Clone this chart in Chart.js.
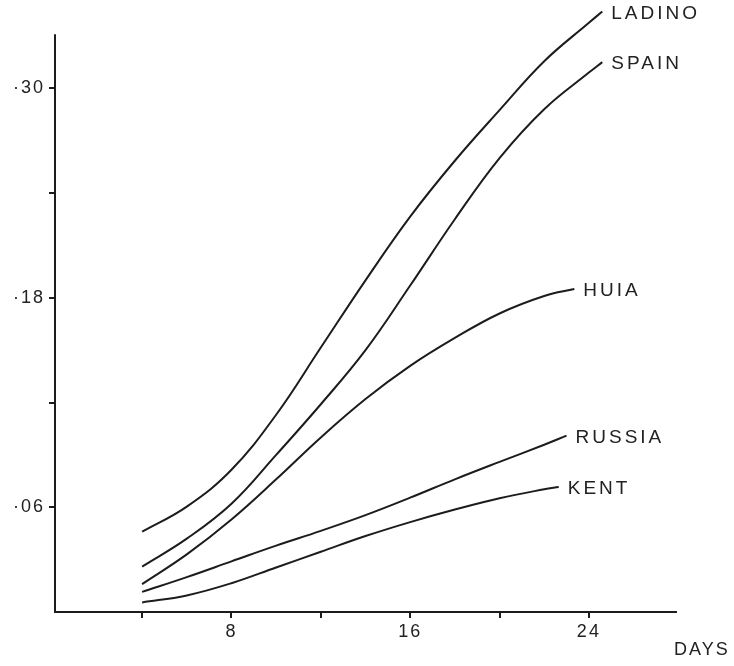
<!DOCTYPE html>
<html>
<head>
<meta charset="utf-8">
<script src="https://cdn.jsdelivr.net/npm/chart.js@4/dist/chart.umd.min.js"></script>
<style>
  html, body { margin: 0; padding: 0; background: #ffffff; }
  #wrap { width: 734px; height: 666px; }
</style>
</head>
<body>
<div id="wrap"><canvas id="c" width="734" height="666"></canvas></div>
<script>
// ---- data ----
const seriesNames = ['LADINO', 'SPAIN', 'HUIA', 'RUSSIA', 'KENT'];

const ladinoDays   = [4, 6, 8, 10, 12, 14, 16, 18, 20, 22, 24, 24.6];
const ladinoValues = [0.046, 0.0604, 0.0815, 0.113, 0.1515, 0.19, 0.2265, 0.2585, 0.2875, 0.3155, 0.3375, 0.344];

const spainDays    = [4, 6, 8, 10, 12, 14, 16, 18, 20, 22, 24, 24.6];
const spainValues  = [0.026, 0.042, 0.062, 0.09, 0.119, 0.150, 0.187, 0.225, 0.26, 0.288, 0.309, 0.315];

const huiaDays     = [4, 6, 8, 10, 12, 14, 16, 18, 20, 22, 23.35];
const huiaValues   = [0.016, 0.033, 0.053, 0.076, 0.1, 0.122, 0.141, 0.157, 0.171, 0.181, 0.185];

const russiaDays   = [4, 6, 8, 10, 12, 14, 16, 18, 20, 22, 23];
const russiaValues = [0.0115, 0.02, 0.029, 0.038, 0.0465, 0.0555, 0.0655, 0.076, 0.086, 0.0958, 0.101];

const kentDays     = [4, 6, 8, 10, 12, 14, 16, 18, 20, 22, 22.65];
const kentValues   = [0.0055, 0.0095, 0.0165, 0.0255, 0.0345, 0.0435, 0.0515, 0.0587, 0.0652, 0.0703, 0.0716];

const xTickValues = [4, 8, 12, 16, 20, 24];
const xTickLabels = ['', '8', '', '16', '', '24'];
const yTickValues = [0.06, 0.12, 0.18, 0.24, 0.30];
const yTickLabels = ['\u00B706', '', '\u00B718', '', '\u00B730'];
const xAxisTitle = 'DAYS';
const yAxisTop = 0.331;

// ---- chart ----
const allDays = [ladinoDays, spainDays, huiaDays, russiaDays, kentDays];
const allValues = [ladinoValues, spainValues, huiaValues, russiaValues, kentValues];

const INK = '#1c1c1c';
const TEXT = '#222222';
Chart.defaults.font.family = "'Liberation Sans', Arial, sans-serif";
Chart.defaults.color = TEXT;

const datasets = seriesNames.map((name, i) => ({
  label: name,
  data: allDays[i].map((d, j) => ({ x: d, y: allValues[i][j] })),
  borderColor: INK,
  borderWidth: 2,
  pointRadius: 0,
  fill: false,
  tension: 0.4,
  clip: false
}));

const decorPlugin = {
  id: 'decor',
  beforeDraw(chart) {
    chart.ctx.letterSpacing = '2px';
  },
  afterDraw(chart) {
    const ctx = chart.ctx;
    const xs = chart.scales.x, ys = chart.scales.y;
    ctx.save();
    // y axis line (stops short of chart top, as in reference)
    ctx.strokeStyle = INK;
    ctx.lineWidth = 2;
    ctx.beginPath();
    ctx.moveTo(chart.chartArea.left, ys.getPixelForValue(0) + 1);
    ctx.lineTo(chart.chartArea.left, ys.getPixelForValue(yAxisTop));
    ctx.stroke();

    // series end labels
    ctx.fillStyle = TEXT;
    ctx.font = "19px 'Liberation Sans', Arial, sans-serif";
    ctx.letterSpacing = '3px';
    ctx.textAlign = 'left';
    ctx.textBaseline = 'middle';
    chart.data.datasets.forEach((ds, i) => {
      const meta = chart.getDatasetMeta(i);
      const last = meta.data[meta.data.length - 1];
      ctx.fillText(ds.label, last.x + 9, last.y + 2);
    });

    // x axis title
    ctx.font = "18px 'Liberation Sans', Arial, sans-serif";
    ctx.letterSpacing = '2px';
    ctx.fillText(xAxisTitle, xs.right - 2, xs.top + 38);
    ctx.restore();
  }
};

new Chart(document.getElementById('c'), {
  type: 'line',
  data: { datasets },
  plugins: [decorPlugin],
  options: {
    responsive: false,
    animation: false,
    events: [],
    layout: { padding: { left: 0, top: 1, right: 58, bottom: 0 } },
    plugins: { legend: { display: false }, tooltip: { enabled: false } },
    scales: {
      x: {
        type: 'linear',
        min: 0.1,
        max: 27.9,
        afterBuildTicks(scale) { scale.ticks = xTickValues.map(v => ({ value: v })); },
        afterFit(scale) { scale.height = 54; scale.paddingLeft = 0; scale.paddingRight = 0; },
        ticks: {
          autoSkip: false,
          maxRotation: 0,
          padding: 3,
          color: TEXT,
          font: { size: 18 },
          callback: (v, i) => xTickLabels[i]
        },
        grid: { drawOnChartArea: false, drawTicks: true, tickLength: 6, color: INK, lineWidth: 2 },
        border: { display: true, color: INK, width: 2 }
      },
      y: {
        type: 'linear',
        min: 0,
        max: 0.35,
        afterBuildTicks(scale) { scale.ticks = yTickValues.map(v => ({ value: v })); },
        afterFit(scale) { scale.width = 55; scale.paddingTop = 0; scale.paddingBottom = 0; },
        ticks: {
          autoSkip: false,
          padding: 4,
          color: TEXT,
          font: { size: 18 },
          callback: (v, i) => yTickLabels[i]
        },
        grid: { drawOnChartArea: false, drawTicks: true, tickLength: 6, color: INK, lineWidth: 2 },
        border: { display: false }
      }
    }
  }
});
</script>
</body>
</html>
